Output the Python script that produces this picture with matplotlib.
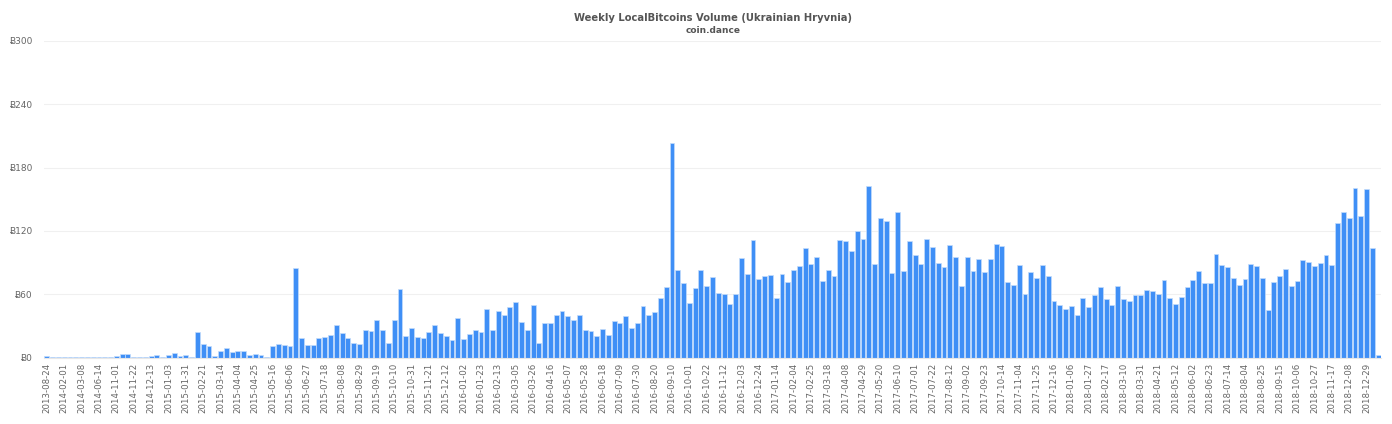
#!/usr/bin/env python3
"""
Weekly LocalBitcoins volume in Ukrainian hryvnia, one bar per week.

Usage:
  python plot.py
"""

from __future__ import annotations

from pathlib import Path

import matplotlib.pyplot as plt
import numpy as np

OUTPUT = Path("out.png")

# one label for every third bar
TICK_LABELS = [
    "2013-08-24", "2014-02-01", "2014-03-08", "2014-06-14", "2014-11-01", "2014-11-22", "2014-12-13",
    "2015-01-03", "2015-01-31", "2015-02-21", "2015-03-14", "2015-04-04", "2015-04-25", "2015-05-16",
    "2015-06-06", "2015-06-27", "2015-07-18", "2015-08-08", "2015-08-29", "2015-09-19", "2015-10-10",
    "2015-10-31", "2015-11-21", "2015-12-12", "2016-01-02", "2016-01-23", "2016-02-13", "2016-03-05",
    "2016-03-26", "2016-04-16", "2016-05-07", "2016-05-28", "2016-06-18", "2016-07-09", "2016-07-30",
    "2016-08-20", "2016-09-10", "2016-10-01", "2016-10-22", "2016-11-12", "2016-12-03", "2016-12-24",
    "2017-01-14", "2017-02-04", "2017-02-25", "2017-03-18", "2017-04-08", "2017-04-29", "2017-05-20",
    "2017-06-10", "2017-07-01", "2017-07-22", "2017-08-12", "2017-09-02", "2017-09-23", "2017-10-14",
    "2017-11-04", "2017-11-25", "2017-12-16", "2018-01-06", "2018-01-27", "2018-02-17", "2018-03-10",
    "2018-03-31", "2018-04-21", "2018-05-12", "2018-06-02", "2018-06-23", "2018-07-14", "2018-08-04",
    "2018-08-25", "2018-09-15", "2018-10-06", "2018-10-27", "2018-11-17", "2018-12-08", "2018-12-29",
]

VOLUME_2013_2015 = [
    1, 0.3, 0.1, 0.1, 0.1, 0.1, 0.4, 0.4, 0.4, 0.2, 0.5, 0.5, 1.5, 3, 3, 0.8, 0.1, 0.1, 1.3, 2.2,
    0.2, 2, 3.8, 1.8, 2.2, 0.6, 24.5, 13, 11, 1.2, 6.3, 9, 5.5, 5.8, 5.8, 2, 3.2, 2.6, 0.8, 11,
    12.6, 11.8, 10.5, 85, 18.5, 11.5, 11.5, 18.5, 19.8, 21, 30.5, 23.5, 18.5, 13.9, 12.6, 25.9,
    24.9, 35.4, 25.9, 13.6, 36, 64.7, 20.5, 28.4, 19.3, 18.6, 24.3, 30.9, 23.4, 20.2, 17, 37.9,
]
VOLUME_2016 = [
    17.4, 22, 26.5, 24.3, 46.4, 25.9, 44.5, 40, 47.7, 52.7, 34, 26, 49.3, 13.6, 33, 32.5, 40, 44.5,
    39, 35.4, 40, 26, 25, 20, 27, 21.8, 35, 32.5, 39, 27.5, 33, 49, 40, 43, 56.5, 66.6, 203.5,
    82.8, 70.6, 51.3, 65.8, 82.6, 67.7, 76, 60.8, 60.4, 50.6, 60, 94.6, 78.8, 111.7, 74.4,
]
VOLUME_2017 = [
    77.2, 77.8, 56, 78.8, 71.5, 82.9, 86.7, 104, 88.6, 95.3, 72.5, 82.9, 76.9, 111.4, 110.4, 101,
    119.6, 112, 162.3, 88.9, 132, 129.7, 80.4, 138, 82.3, 110.8, 96.8, 88.6, 112.3, 105, 89.2,
    85.8, 106.3, 94.9, 67.7, 95.6, 81.6, 93.7, 81, 93.4, 107.6, 105.4, 71.5, 69, 88, 60.4, 80.7,
    75.6, 87.3, 76.9, 54, 49.4,
]
VOLUME_2018 = [
    45.6, 48.7, 40, 56.3, 47.8, 59.5, 66.5, 55, 49.7, 67.4, 55, 53.5, 58.9, 58.9, 64, 62.7, 60.4,
    73, 56.3, 50.3, 57.6, 66.8, 73, 81.6, 70.6, 70.9, 98, 87.3, 85.4, 75.6, 69, 74.4, 88.6, 86.7,
    75.6, 44.6, 72, 77, 83.5, 67.4, 72.8, 92.4, 90.8, 86.4, 90, 97.5, 88, 127.5, 137.7, 132, 161,
    134, 159.5, 104, 2.2,
]

Y_TICKS = [0, 60, 120, 180, 240, 300]


def make_plot(out: Path) -> Path:
    volume = np.array(VOLUME_2013_2015 + VOLUME_2016 + VOLUME_2017 + VOLUME_2018)
    weeks = np.arange(len(volume))

    fig, ax = plt.subplots(figsize=(13.92, 4.24), dpi=100)
    fig.subplots_adjust(left=44 / 1392, right=1381 / 1392, top=1 - 41 / 424, bottom=1 - 357.5 / 424)

    ax.bar(weeks, volume, width=0.84, color="#3f8ff6", edgecolor="#c4dcfb", linewidth=0.5, zorder=2)

    ax.set_xticks(weeks[::3])
    ax.set_xticklabels(TICK_LABELS, rotation=90, fontsize=6.2, color="#666666")
    ax.set_yticks(Y_TICKS)
    ax.set_yticklabels([f"Ƀ{v}" for v in Y_TICKS], fontsize=6.5, color="#666666")
    ax.set_xlim(-0.5, len(volume) - 0.5)
    ax.set_ylim(0, 300)
    ax.grid(axis="y", color="#f0f0f0", linewidth=0.8, zorder=0)
    ax.tick_params(axis="y", length=0, pad=8)
    ax.tick_params(axis="x", length=0, pad=4)
    for side in ("top", "right", "left"):
        ax.spines[side].set_visible(False)
    ax.spines["bottom"].set_color("#e6e6e6")

    fig.text(713 / 1392, 1 - 18 / 424, "Weekly LocalBitcoins Volume (Ukrainian Hryvnia)", ha="center",
             va="center", fontsize=7.2, fontweight="bold", color="#555555")
    fig.text(713 / 1392, 1 - 30.5 / 424, "coin.dance", ha="center", va="center", fontsize=6.5,
             fontweight="bold", color="#555555")

    fig.savefig(out, dpi=100)
    plt.close(fig)
    return out


def main() -> int:
    plot_path = make_plot(OUTPUT)
    print(f"  plot {plot_path}")
    return 0


if __name__ == "__main__":
    raise SystemExit(main())
